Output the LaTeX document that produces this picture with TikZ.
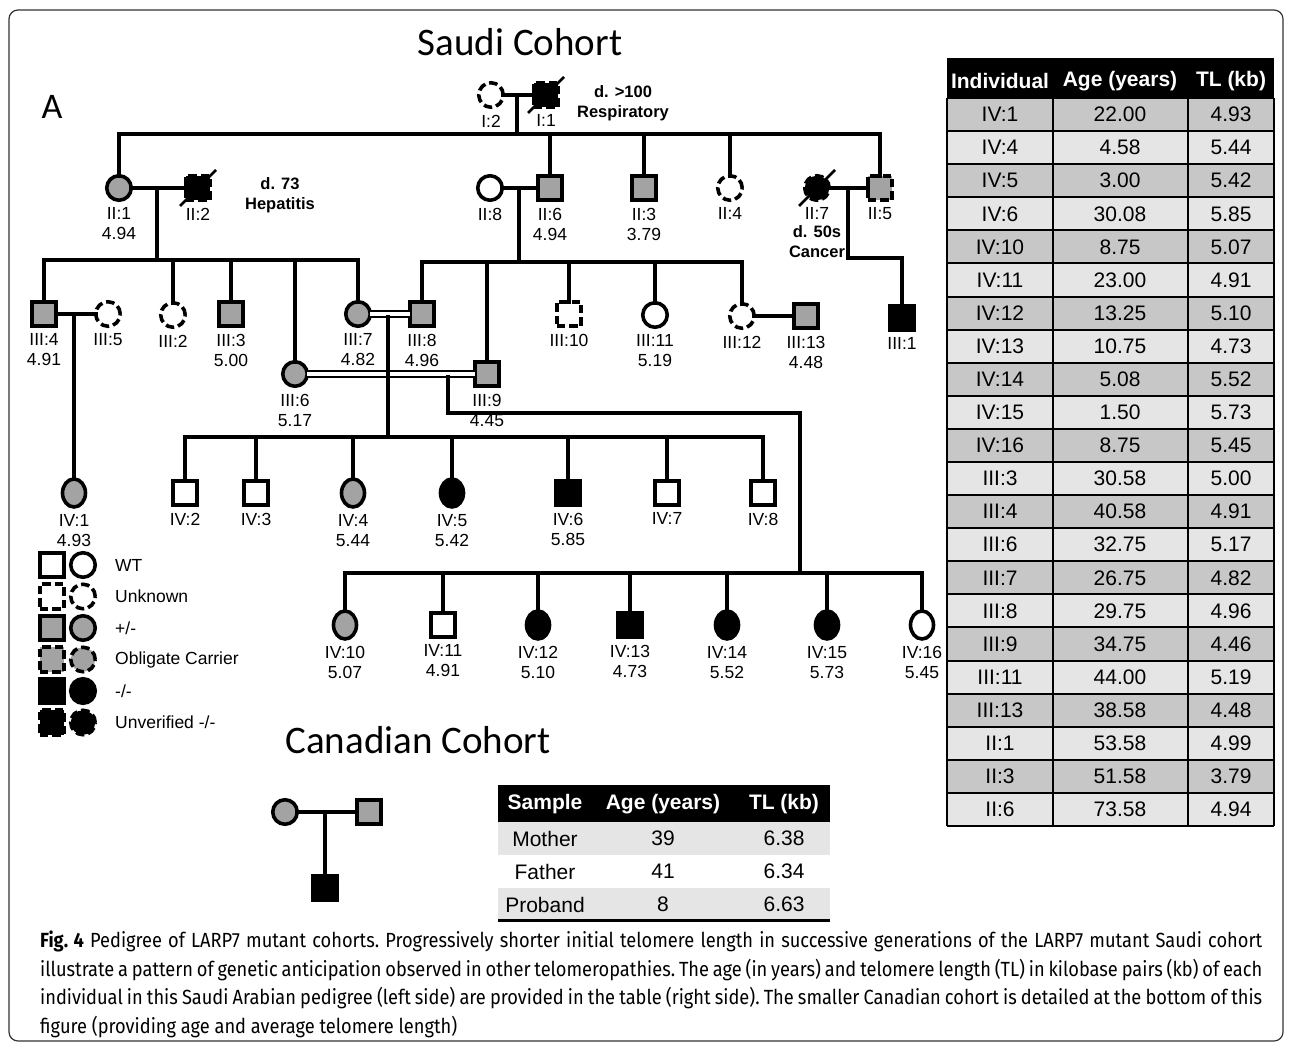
\documentclass[tikz,border=0pt]{standalone}
\usepackage{fontspec}
\setmainfont{Liberation Sans}
\newfontfamily\titlefont{Carlito}
\newfontfamily\capfont[FakeStretch=0.89]{Fira Sans}
\usetikzlibrary{positioning,shapes.geometric}
\definecolor{pgray}{RGB}{163,163,163}
\tikzset{
  pers/.style={draw, line width=3.6pt, inner sep=0pt, outer sep=0pt},
  sq/.style={pers, rectangle, minimum size=24.5pt},
  ci/.style={pers, circle, minimum size=24.5pt},
  el/.style={pers, ellipse, minimum width=23pt, minimum height=28pt},
  wt/.style={fill=white},
  car/.style={fill=pgray},
  aff/.style={fill=black},
  unk/.style={fill=white, dash pattern=on 8.5pt off 4pt},
  obl/.style={fill=pgray, dash pattern=on 8.5pt off 4pt},
  unv/.style={fill=black, dash pattern=on 8.5pt off 4pt},
  ped/.style={line width=3.6pt, line cap=rect},
  dbl/.style={line width=2.5pt, double=white, double distance=3.4pt},
  slash/.style={line width=2.6pt},
  lbl/.style={font=\fontsize{17.5}{20}\selectfont, align=center, inner sep=0pt},
  note/.style={font=\bfseries\fontsize{16.5}{20}\selectfont, align=center, inner sep=0pt},
  ttl/.style={font=\titlefont\fontsize{39}{44}\selectfont, inner sep=0pt},
  cell/.style={font=\fontsize{21}{24}\selectfont, inner sep=0pt},
  head/.style={font=\bfseries\fontsize{21}{24}\selectfont, text=white, inner sep=0pt},
  grid/.style={line width=2pt},
  capt/.style={font=\capfont\fontsize{20.5}{28.5}\selectfont, text width=1222pt,
    align=justify, inner sep=0pt, anchor=north west}
}
\newcommand{\indiv}[5]{%
  \node[#2] (#1) at (#3,#4) {};
  \node[lbl, below=7.5pt of #1] (#1-l) {#5};}
\newcommand{\dead}[1]{%
  \draw[slash] ([shift={(-18,18)}]#1.center) -- ([shift={(18,-18)}]#1.center);}

\begin{document}
\begin{tikzpicture}[x=1pt, y=-1pt]
\useasboundingbox (0,0) rectangle (1292,1046);
\draw[line width=1.2pt, black!80, rounded corners=9pt] (9,10) rectangle (1283,1041);

\node[ttl] (tSaudi) at (520,42) {Saudi Cohort};
\node[ttl, font=\titlefont\fontsize{36}{40}\selectfont] (tA) at (52,107) {A};
\node[ttl] (tCanada) at (418,740) {Canadian Cohort};

% generation I and II
\indiv{I2}{ci,unk}{491}{95}{I:2}
\indiv{I1}{sq,unv}{546}{95}{I:1}
\indiv{II1}{ci,car}{119}{188}{II:1\\4.94}
\indiv{II2}{sq,unv}{198}{188}{II:2}
\indiv{II8}{ci,wt}{490}{188}{II:8}
\indiv{II6}{sq,car}{550}{188}{II:6\\4.94}
\indiv{II3}{sq,car}{644}{188}{II:3\\3.79}
\indiv{II4}{ci,unk}{730}{188}{II:4}
\indiv{II7}{ci,unv}{817}{188}{II:7}
\indiv{II5}{sq,obl}{880}{188}{II:5}
\dead{I1}
\dead{II2}
\dead{II7}
\node[note] (nI1) at (623,103) {d. >100\\Respiratory};
\node[note] (nII2) at (280,195) {d. 73\\Hepatitis};
\node[note, below=5pt of II7-l] (nII7) {d. 50s\\Cancer};

% generation III
\indiv{III4}{sq,car}{44}{314}{III:4\\4.91}
\indiv{III5}{ci,unk}{108}{314}{III:5}
\indiv{III2}{ci,unk}{173}{315}{III:2}
\indiv{III3}{sq,car}{231}{314}{III:3\\5.00}
\indiv{III7}{ci,car}{358}{314}{III:7\\4.82}
\indiv{III8}{sq,car}{422}{314}{III:8\\4.96}
\indiv{III6}{ci,car}{295}{374}{III:6\\5.17}
\indiv{III9}{sq,car}{487}{374}{III:9\\4.45}
\indiv{III10}{sq,unk}{569}{314}{III:10}
\indiv{III11}{ci,wt}{655}{315}{III:11\\5.19}
\indiv{III12}{ci,unk}{742}{316}{III:12}
\indiv{III13}{sq,car}{806}{316}{III:13\\4.48}
\indiv{III1}{sq,aff}{902}{318}{III:1}

% generation IV
\indiv{IV1}{el,car}{74}{493}{IV:1\\4.93}
\indiv{IV2}{sq,wt}{185}{493}{IV:2}
\indiv{IV3}{sq,wt}{256}{493}{IV:3}
\indiv{IV4}{el,car}{353}{493}{IV:4\\5.44}
\indiv{IV5}{el,aff}{452}{493}{IV:5\\5.42}
\indiv{IV6}{sq,aff}{568}{493}{IV:6\\5.85}
\indiv{IV7}{sq,wt}{667}{493}{IV:7}
\indiv{IV8}{sq,wt}{763}{493}{IV:8}
\indiv{IV10}{el,car}{345}{625}{IV:10\\5.07}
\indiv{IV11}{sq,wt}{443}{625}{IV:11\\4.91}
\indiv{IV12}{el,aff}{538}{625}{IV:12\\5.10}
\indiv{IV13}{sq,aff}{630}{625}{IV:13\\4.73}
\indiv{IV14}{el,aff}{727}{625}{IV:14\\5.52}
\indiv{IV15}{el,aff}{827}{625}{IV:15\\5.73}
\indiv{IV16}{el,wt}{922}{625}{IV:16\\5.45}

% lines of descent
\coordinate (sII) at (517,134);
\draw[ped] (I2) -- (I1);
\draw[ped] (sII |- I1) -- (sII);
\draw[ped] (II1 |- sII) -- (II5 |- sII);
\foreach \n in {II1,II6,II3,II4,II5} \draw[ped] (\n |- sII) -- (\n);

\coordinate (sIIIa) at (157,260);
\draw[ped] (II1) -- (II2);
\draw[ped] (sIIIa |- II1) -- (sIIIa);
\draw[ped] (III4 |- sIIIa) -- (III7 |- sIIIa);
\foreach \n in {III4,III2,III3,III6,III7} \draw[ped] (\n |- sIIIa) -- (\n);

\coordinate (sIIIb) at (519,262);
\draw[ped] (II8) -- (II6);
\draw[ped] (sIIIb |- II6) -- (sIIIb);
\draw[ped] (III8 |- sIIIb) -- (III12 |- sIIIb);
\foreach \n in {III8,III9,III10,III11,III12} \draw[ped] (\n |- sIIIb) -- (\n);

\coordinate (mII7) at (848,188);
\coordinate (kII7) at (848,258);
\draw[ped] (II7) -- (II5);
\draw[ped] (mII7) -- (kII7) -| (III1);

\coordinate (mIII4) at (74,314);
\draw[ped] (III4) -- (III5);
\draw[ped] (mIII4) -- (IV1);
\draw[ped] (III12) -- (III13);

\draw[dbl] (III7) -- (III8);
\draw[dbl] (III6) -- (III9);
\coordinate (mIII7) at (388,317);
\coordinate (sIVa) at (388,437);
\draw[ped] (mIII7) -- (sIVa);
\draw[ped] (IV2 |- sIVa) -- (IV8 |- sIVa);
\foreach \n in {IV2,IV3,IV4,IV5,IV6,IV7,IV8} \draw[ped] (\n |- sIVa) -- (\n);

\coordinate (mIII6) at (448,377);
\coordinate (kIII6) at (448,413);
\coordinate (sIVb) at (800,573);
\draw[ped] (mIII6) -- (kIII6) -| (sIVb);
\draw[ped] (IV10 |- sIVb) -- (IV16 |- sIVb);
\foreach \n in {IV10,IV11,IV12,IV13,IV14,IV15,IV16} \draw[ped] (\n |- sIVb) -- (\n);

% legend
\foreach \st/\txt [count=\i] in {wt/WT, unk/Unknown, car/{+/-}, obl/{Obligate Carrier}, aff/{-/-}, unv/{Unverified -/-}} {
  \pgfmathsetmacro\ly{565+(\i-1)*31.5}
  \node[sq,\st] (leg\i s) at (52,\ly) {};
  \node[ci,\st] (leg\i c) at (83,\ly) {};
  \node[lbl, anchor=west] (leg\i t) at (115,\ly) {\txt};
}

% Canadian cohort
\node[ci,car] (CaM) at (285,812) {};
\node[sq,car] (CaF) at (369,812) {};
\node[sq,aff] (CaP) at (325,888) {};
\coordinate (mCa) at (325,812);
\draw[ped] (CaM) -- (CaF);
\draw[ped] (mCa) -- (CaP);

% Saudi table
\fill (947,58) rectangle (1274,98);
\node[head] (hInd) at (1000,81) {Individual};
\node[head] (hAge) at (1120,81) {Age (years)};
\node[head] (hTL) at (1231,81) {TL (kb)};
\foreach \who/\age/\tlen [count=\k] in {IV:1/22.00/4.93, IV:4/4.58/5.44, IV:5/3.00/5.42,
    IV:6/30.08/5.85, IV:10/8.75/5.07, IV:11/23.00/4.91, IV:12/13.25/5.10, IV:13/10.75/4.73,
    IV:14/5.08/5.52, IV:15/1.50/5.73, IV:16/8.75/5.45, III:3/30.58/5.00, III:4/40.58/4.91,
    III:6/32.75/5.17, III:7/26.75/4.82, III:8/29.75/4.96, III:9/34.75/4.46, III:11/44.00/5.19,
    III:13/38.58/4.48, II:1/53.58/4.99, II:3/51.58/3.79, II:6/73.58/4.94} {
  \pgfmathtruncatemacro\sh{mod(\k,2)==1 ? 22 : 10}
  \pgfmathsetmacro\yc{98+(\k-0.5)*33.09}
  \fill[black!\sh] (947,{\yc-16.55}) rectangle (1274,{\yc+16.55});
  \node[cell] (ta\k) at (1000,\yc) {\who};
  \node[cell] (tb\k) at (1120,\yc) {\age};
  \node[cell] (tc\k) at (1231,\yc) {\tlen};
}
\foreach \k in {0,...,22} \draw[grid] (947,{98+\k*33.09}) -- (1274,{98+\k*33.09});
\foreach \x in {947,1053,1188,1274} \draw[grid] (\x,98) -- (\x,826);

% Canadian table
\fill (498,785) rectangle (830,822);
\fill[black!10] (498,822) rectangle (830,855);
\fill[black!10] (498,888) rectangle (830,920);
\draw[line width=3pt] (498,920) -- (830,920);
\node[head] (cS) at (545,804) {Sample};
\node[head] (cA) at (663,804) {Age (years)};
\node[head] (cT) at (784,804) {TL (kb)};
\foreach \smp/\age/\tlen [count=\k] in {Mother/39/6.38, Father/41/6.34, Proband/8/6.63} {
  \pgfmathsetmacro\yc{838.5+(\k-1)*33}
  \node[cell] (ca\k) at (545,\yc) {\smp};
  \node[cell] (cb\k) at (663,\yc) {\age};
  \node[cell] (cc\k) at (784,\yc) {\tlen};
}

\node[capt] (caption) at (40,931) {\frenchspacing\textbf{Fig.~4} Pedigree of LARP7 mutant cohorts. Progressively shorter initial telomere length in successive generations of the LARP7 mutant Saudi cohort\linebreak
illustrate a pattern of genetic anticipation observed in other telomeropathies. The age (in years) and telomere length (TL) in kilobase pairs (kb) of each\linebreak
individual in this Saudi Arabian pedigree (left side) are provided in the table (right side). The smaller Canadian cohort is detailed at the bottom of this\linebreak
figure (providing age and average telomere length)};
\end{tikzpicture}
\end{document}
